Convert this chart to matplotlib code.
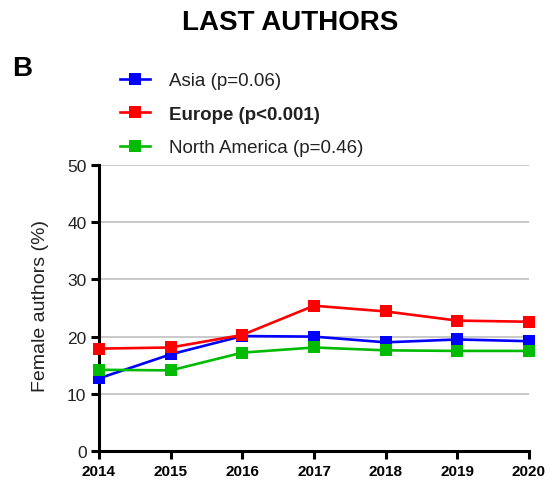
import matplotlib
matplotlib.use("Agg")
import matplotlib.pyplot as plt

plt.rcParams['font.family'] = ['Liberation Sans', 'DejaVu Sans']

years = [2014, 2015, 2016, 2017, 2018, 2019, 2020]
asia = [12.7, 16.9, 20.1, 20.0, 19.0, 19.5, 19.2]
europe = [17.9, 18.1, 20.3, 25.4, 24.4, 22.8, 22.6]
north_america = [14.2, 14.1, 17.2, 18.1, 17.6, 17.5, 17.5]

labels = ["Asia (p=0.06)", "Europe (p<0.001)", "North America (p=0.46)"]
colors = ["#0000ff", "#ff0000", "#00bb00"]
series = [asia, europe, north_america]

fig = plt.figure(figsize=(5.5, 4.85), dpi=100)
ax = fig.add_axes([0.18, 0.068, 0.7818, 0.5897])

handles = []
for vals, col, lab in zip(series, colors, labels):
    h, = ax.plot(years, vals, color=col, lw=1.9, marker='s', markersize=9,
                 markeredgewidth=0, label=lab, clip_on=False, zorder=3)
    handles.append(h)

ax.set_xlim(2014, 2020)
ax.set_ylim(0, 50)
ax.set_yticks([0, 10, 20, 30, 40, 50])
ax.set_xticks(years)
ax.set_xticklabels([str(y) for y in years], fontweight='bold', fontsize=11)
for t in ax.get_yticklabels():
    t.set_fontsize(12.5)
    t.set_color('#222222')
ax.yaxis.grid(True, color='#c0c0c0', lw=1.2)
ax.set_axisbelow(True)
for s in ['top', 'right']:
    ax.spines[s].set_visible(False)
for s in ['left', 'bottom']:
    ax.spines[s].set_linewidth(2.2)
ax.tick_params(axis='both', width=2.2, length=6, direction='out', pad=3)
ax.set_ylabel("Female authors (%)", fontsize=14, color='#222222')
ax.yaxis.set_label_coords(-0.117, 0.51)

fig.text(0.527, 0.953, "LAST AUTHORS", ha='center', va='center',
         fontsize=20, fontweight='bold')
fig.text(0.022, 0.858, "B", ha='left', va='center', fontsize=20, fontweight='bold')

leg = fig.legend(handles=handles, loc='upper left', bbox_to_anchor=(0.205, 0.865),
                 frameon=False, fontsize=13.5, handlelength=1.6, handletextpad=1.0,
                 labelspacing=0.88, borderaxespad=0)
for t in leg.get_texts():
    t.set_color('#222222')
leg.get_texts()[1].set_fontweight('bold')

fig.savefig("out.png", dpi=100)
